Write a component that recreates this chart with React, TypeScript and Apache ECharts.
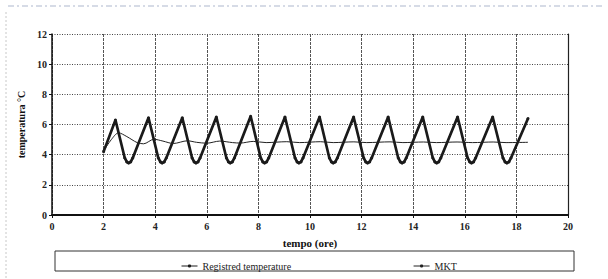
import React, { useEffect, useRef } from "react";
import * as echarts from "echarts";

const xTicks = [0, 2, 4, 6, 8, 10, 12, 14, 16, 18, 20];
const yTicks = [0, 2, 4, 6, 8, 10, 12];

const registeredTemperature: [number, number][] = [
  [2.0, 4.2], [2.46, 6.3],
  [2.82, 3.78], [2.9, 3.52], [2.97, 3.45], [3.05, 3.52], [3.13, 3.78],
  [3.74, 6.45],
  [4.12, 3.78], [4.2, 3.52], [4.27, 3.45], [4.35, 3.52], [4.43, 3.78],
  [5.05, 6.45],
  [5.43, 3.78], [5.51, 3.52], [5.58, 3.45], [5.66, 3.52], [5.74, 3.78],
  [6.37, 6.5],
  [6.76, 3.78], [6.84, 3.52], [6.91, 3.45], [6.99, 3.52], [7.07, 3.78],
  [7.7, 6.55],
  [8.09, 3.78], [8.17, 3.52], [8.24, 3.45], [8.32, 3.52], [8.4, 3.78],
  [9.03, 6.5],
  [9.42, 3.78], [9.5, 3.52], [9.57, 3.45], [9.65, 3.52], [9.73, 3.78],
  [10.37, 6.5],
  [10.75, 3.78], [10.83, 3.52], [10.9, 3.45], [10.98, 3.52], [11.06, 3.78],
  [11.69, 6.5],
  [12.08, 3.78], [12.16, 3.52], [12.23, 3.45], [12.31, 3.52], [12.39, 3.78],
  [13.03, 6.5],
  [13.42, 3.78], [13.5, 3.52], [13.57, 3.45], [13.65, 3.52], [13.73, 3.78],
  [14.37, 6.5],
  [14.76, 3.78], [14.84, 3.52], [14.91, 3.45], [14.99, 3.52], [15.07, 3.78],
  [15.72, 6.5],
  [16.11, 3.78], [16.19, 3.52], [16.26, 3.45], [16.34, 3.52], [16.42, 3.78],
  [17.08, 6.5],
  [17.48, 3.78], [17.56, 3.52], [17.63, 3.45], [17.71, 3.52], [17.79, 3.78],
  [18.45, 6.4],
];

const mkt: [number, number][] = [
  [2.0, 4.25], [2.3, 5.0], [2.58, 5.45], [2.9, 5.2], [3.3, 4.8], [3.55, 4.72],
  [3.95, 5.02], [4.3, 4.9], [4.7, 4.74], [5.25, 4.92], [5.6, 4.82], [6.0, 4.76],
  [6.5, 4.9], [7.0, 4.8], [7.3, 4.77], [7.8, 4.88], [8.3, 4.8], [9.1, 4.86],
  [9.6, 4.8], [10.4, 4.86], [10.9, 4.8], [11.7, 4.85], [12.2, 4.8], [13.1, 4.85],
  [13.6, 4.8], [14.4, 4.84], [14.9, 4.8], [15.7, 4.84], [16.3, 4.8], [17.1, 4.84],
  [17.6, 4.8], [18.45, 4.82],
];

const seriesNames = ["Registred temperature", "MKT"];
const xTitle = "tempo (ore)";
const yTitle = "temperatura °C";

export default function App() {
  const ref = useRef<HTMLDivElement>(null);
  useEffect(() => {
    const chart = echarts.init(ref.current!, null, { renderer: "svg" });
    const serif = "Liberation Serif";
    chart.setOption({
      animation: false,
      backgroundColor: "#ffffff",
      textStyle: { fontFamily: serif },
      grid: { left: 52, right: 40, top: 34, bottom: 64 },
      legend: {
        left: 176,
        top: 256,
        itemGap: 122,
        itemWidth: 16,
        itemHeight: 4,
        lineStyle: { width: 1 },
        textStyle: { fontFamily: serif, fontSize: 10, color: "#222" },
        data: seriesNames,
      },
      graphic: [
        {
          type: "rect",
          shape: { x: 55, y: 251, width: 519, height: 20 },
          style: { fill: "none", stroke: "#333", lineWidth: 1 },
          z: -1,
        },
        {
          type: "line",
          shape: { x1: 6, y1: 12, x2: 6, y2: 279 },
          style: { stroke: "#c8c8c8", lineWidth: 1, lineDash: [2, 2] },
        },
        {
          type: "line",
          shape: { x1: 8, y1: 6, x2: 604, y2: 6 },
          style: { stroke: "#d6dbe6", lineWidth: 2, lineDash: [6, 3, 2, 3] },
        },
      ],
      xAxis: {
        type: "value",
        min: 0,
        max: 20,
        interval: 2,
        name: xTitle,
        nameLocation: "middle",
        nameGap: 22,
        nameTextStyle: { fontFamily: serif, fontSize: 11, fontWeight: "bold", color: "#111" },
        axisLine: { lineStyle: { color: "#111", width: 2 } },
        axisTick: { show: true, length: 3, lineStyle: { color: "#111" } },
        axisLabel: {
          fontFamily: serif, fontSize: 10, fontWeight: "bold", color: "#222", margin: 6,
          formatter: (v: number) => (xTicks.includes(v) ? String(v) : ""),
        },
        splitLine: { show: true, lineStyle: { color: "#555", width: 1, type: [3, 1] } },
      },
      yAxis: [
        {
          type: "value",
          min: 0,
          max: 12,
          interval: 2,
          name: yTitle,
          nameLocation: "middle",
          nameGap: 17,
          nameTextStyle: { fontFamily: serif, fontSize: 10, fontWeight: "bold", color: "#111" },
          axisLine: { show: true, lineStyle: { color: "#111", width: 1.5 } },
          axisTick: { show: true, length: 3, lineStyle: { color: "#111" } },
          axisLabel: {
            fontFamily: serif, fontSize: 10, fontWeight: "bold", color: "#222", margin: 5,
            formatter: (v: number) => (yTicks.includes(v) ? String(v) : ""),
          },
          splitLine: { show: true, lineStyle: { color: "#444", width: 1, type: [1, 1.5] } },
        },
        {
          type: "value",
          min: 0,
          max: 12,
          interval: 2,
          position: "right",
          axisLine: { show: true, lineStyle: { color: "#222", width: 1.2 } },
          axisTick: { show: false },
          axisLabel: { show: false },
          splitLine: { show: false },
        },
      ],
      series: [
        {
          name: seriesNames[0],
          type: "line",
          data: registeredTemperature,
          symbol: "circle",
          symbolSize: 3,
          showSymbol: true,
          itemStyle: { color: "#1a1a1a" },
          lineStyle: { color: "#1a1a1a", width: 2.7 },
          z: 3,
        },
        {
          name: seriesNames[1],
          type: "line",
          data: mkt,
          symbol: "none",
          smooth: 0.3,
          itemStyle: { color: "#222" },
          lineStyle: { color: "#222", width: 1 },
          z: 4,
        },
      ],
    });
    return () => chart.dispose();
  }, []);
  return (
    <div
      ref={ref}
      style={{ position: "fixed", left: 0, top: 0, width: 608, height: 279, background: "#fff" }}
    />
  );
}
